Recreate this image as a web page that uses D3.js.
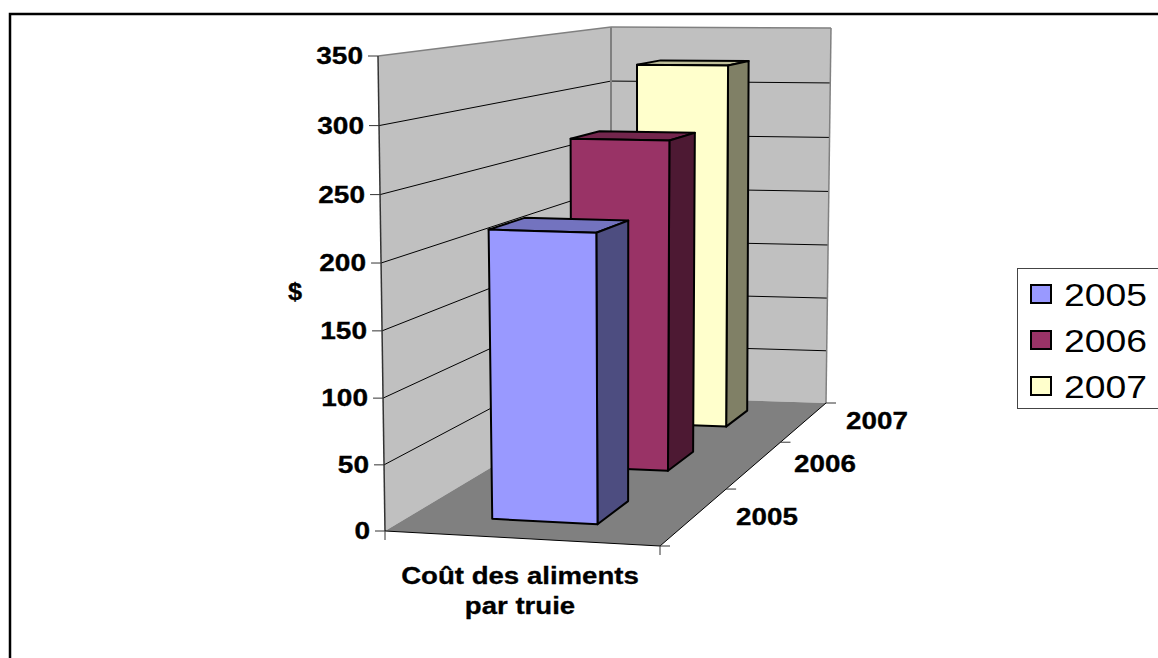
<!DOCTYPE html>
<html><head><meta charset="utf-8">
<style>html,body{margin:0;padding:0;background:#fff;overflow:hidden}svg{display:block}text{font-family:"Liberation Sans",Arial,sans-serif;fill:#000}</style>
<script src="https://cdnjs.cloudflare.com/ajax/libs/d3/7.8.5/d3.min.js"></script>
</head><body><div id="c"></div>
<script>
const categories = ["Coût des aliments|par truie"];
const years = ["2005","2006","2007"];
const values = [220, 272, 322];
const fills = ["#9999FF","#993366","#FFFFCC"];
const sideFills = ["#4D4D80","#4D1933","#808066"];
const topFills = ["#7373BF","#73264D","#BFBF99"];
const valueTicks = [0,50,100,150,200,250,300,350];

const W=1158,H=658;
const svg=d3.select("#c").append("svg").attr("width",W).attr("height",H);

// Frame of the 3D box: floor and ceiling corners [front-left, front-right, back-right, back-left]
const floorQuad=[[385,531],[660,546],[826,403],[611,396]];
const ceilQuad=[[378,56],[664,61],[831,28],[611,27]];

function homography(q){
  const [[x0,y0],[x1,y1],[x2,y2],[x3,y3]]=q;
  const dx1=x1-x2,dx2=x3-x2,sx=x0-x1+x2-x3,dy1=y1-y2,dy2=y3-y2,sy=y0-y1+y2-y3;
  const det=dx1*dy2-dx2*dy1;
  const g=(sx*dy2-dx2*sy)/det,h=(dx1*sy-sx*dy1)/det;
  const a=x1-x0+g*x1,b=x3-x0+h*x3,d=y1-y0+g*y1,e=y3-y0+h*y3;
  return (u,w)=>{const k=g*u+h*w+1;return [(a*u+b*w+x0)/k,(d*u+e*w+y0)/k];};
}
const floorH=homography(floorQuad),ceilH=homography(ceilQuad);

const vScale=d3.scaleLinear().domain([0,350]).range([0,1]);
const depth=d3.scaleBand().domain(years).range([0,1.005]).paddingInner(0.59).paddingOuter(0.28);
const depthStep=d3.scaleLinear().domain([0,years.length]).range([0,1]);
const cat=d3.scaleBand().domain(categories).range([0.307,0.70]);
const color=d3.scaleOrdinal().domain(years).range(fills);

function P(u,w,v){
  const a=floorH(u,w),b=ceilH(u,w),x=vScale(v),t=x/(1+0.03*(1-x));
  return [a[0]+(b[0]-a[0])*t,a[1]+(b[1]-a[1])*t];
}
const poly=pts=>d3.line()(pts)+"Z";
function seg(g,a,b,stroke,sw){g.append("line").attr("x1",a[0]).attr("y1",a[1]).attr("x2",b[0]).attr("y2",b[1]).attr("stroke",stroke).attr("stroke-width",sw);}
function label(g,str,x,y,size,sx,anchor,weight){
  const b=(weight||"bold")==="bold";
  return g.append("text").attr("transform",`translate(${x},${y}) scale(${sx},1)`)
    .attr("font-size",size).attr("font-weight",weight||"bold").attr("text-anchor",anchor||"middle")
    .attr("stroke",b?"#000":"none").attr("stroke-width",b?0.3:0).text(str);
}

svg.append("rect").attr("x",10).attr("y",14).attr("width",W+20).attr("height",H+20).attr("fill","#fff").attr("stroke","#000").attr("stroke-width",2.5);

const plot=svg.append("g");
plot.append("path").attr("d",poly([P(0,0,0),P(0,0,350),P(0,1,350),P(0,1,0)])).attr("fill","#C0C0C0");
plot.append("path").attr("d",poly([P(0,1,0),P(0,1,350),P(1,1,350),P(1,1,0)])).attr("fill","#C0C0C0");
plot.append("path").attr("d",poly([P(0,0,0),P(1,0,0),P(1,1,0),P(0,1,0)])).attr("fill","#808080");

valueTicks.filter(v=>v>0&&v<350).forEach(v=>{
  seg(plot,P(0,0,v),P(0,1,v),"#000",1);
  seg(plot,P(0,1,v),P(1,1,v),"#000",1);
});
seg(plot,P(0,0,350),P(0,1,350),"#808080",1.5);
seg(plot,P(0,1,350),P(1,1,350),"#808080",1.5);
seg(plot,P(1,1,350),P(1,1,0),"#808080",1.5);
seg(plot,P(0,1,350),P(0,1,0),"#808080",2);
seg(plot,P(0,0,0),P(0,0,350),"#333",1.5);
seg(plot,P(0,0,0),P(1,0,0),"#000",1);
seg(plot,P(1,0,0),P(1,1,0),"#000",1);

valueTicks.forEach(v=>{
  const p=P(0,0,v);
  seg(plot,[p[0]-10,p[1]],p,"#333",1);
  label(plot,String(v),p[0]-15,p[1]+8,23,1.22,"end");
});
[0,1].forEach(u=>{const p=P(u,0,0);seg(plot,p,[p[0],p[1]+9],"#333",1);});
d3.range(0,years.length+1).forEach(i=>{const p=P(1,depthStep(i),0);seg(plot,p,[p[0]+10,p[1]],"#333",1);});
const depthLabelPos=[[767,525],[825,472],[877,429]];
years.forEach((y,i)=>label(plot,y,depthLabelPos[i][0],depthLabelPos[i][1],23,1.21));

const u0=cat(categories[0]),u1=u0+cat.bandwidth();
d3.range(years.length-1,-1,-1).forEach(i=>{
  const y=years[i],v=values[i],w0=depth(y),w1=w0+depth.bandwidth();
  const g=plot.append("g").attr("stroke","#000").attr("stroke-width",2).attr("stroke-linejoin","round");
  g.append("path").attr("d",poly([P(u0,w0,v),P(u1,w0,v),P(u1,w1,v),P(u0,w1,v)])).attr("fill",topFills[i]);
  g.append("path").attr("d",poly([P(u1,w0,0),P(u1,w0,v),P(u1,w1,v),P(u1,w1,0)])).attr("fill",sideFills[i]);
  g.append("path").attr("d",poly([P(u0,w0,0),P(u0,w0,v),P(u1,w0,v),P(u1,w0,0)])).attr("fill",color(y));
});

categories[0].split("|").forEach((s,i)=>label(svg,s,520,584+i*30,24,1.15));
label(svg,"$",295,300,23,1.1);

const lg=svg.append("g");
lg.append("rect").attr("x",1017.5).attr("y",268.5).attr("width",200).attr("height",140).attr("fill","#fff").attr("stroke","#444").attr("stroke-width",1);
years.forEach((y,i)=>{
  const base=[306,352,398][i];
  lg.append("rect").attr("x",1031).attr("y",base-21).attr("width",20).attr("height",18).attr("fill",color(y)).attr("stroke","#000").attr("stroke-width",2);
  label(lg,y,1064,base,32,1.165,"start","normal");
});
</script></body></html>
